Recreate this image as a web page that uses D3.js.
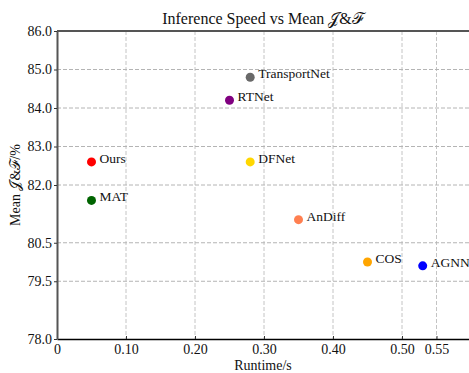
<!DOCTYPE html>
<html lang="en">
<head>
    <meta charset="UTF-8">
    <title>Inference Speed vs Mean J&F</title>
    <script type="text/javascript" src="https://cdn.jsdelivr.net/npm/d3@7"></script>
    <style>
        body { margin: 0; background: #fff; }
        text { font-family: "Liberation Serif", "DejaVu Serif", serif; fill: #111; }
    </style>
</head>
<body>
    <script type="text/javascript">
        var methods = ["Ours", "MAT", "RTNet", "TransportNet", "DFNet", "AnDiff", "COS", "AGNN"];
        var runtime = [0.05, 0.05, 0.25, 0.28, 0.28, 0.35, 0.45, 0.53];
        var meanJF = [82.6, 81.6, 84.2, 84.8, 82.6, 81.1, 80.0, 79.9];
        var colors = ["red", "darkgreen", "purple", "dimgray", "gold", "coral", "orange", "blue"];
        var xTicks = [0, 0.10, 0.20, 0.30, 0.40, 0.50, 0.55];
        var yTicks = [78.0, 79.5, 80.5, 82.0, 83.0, 84.0, 85.0, 86.0];

        var w = 469, h = 373;
        var mLeft = 57, mRight = 471, mTop = 31, mBottom = 339;

        var svg = d3.select("body").append("svg")
            .attr("width", w)
            .attr("height", h);

        var xScale = d3.scaleLinear().domain([0, 0.6]).range([mLeft, mRight]);
        var yScale = d3.scaleLinear().domain([78, 86]).range([mBottom, mTop]);

        // grid
        svg.append("g").selectAll("line")
            .data(xTicks.slice(1))
            .enter().append("line")
            .attr("x1", function(d) { return xScale(d); })
            .attr("x2", function(d) { return xScale(d); })
            .attr("y1", mTop).attr("y2", mBottom)
            .attr("stroke", "#c4c4c4")
            .attr("stroke-width", 1)
            .attr("stroke-dasharray", "4,2");

        svg.append("g").selectAll("line")
            .data(yTicks.slice(1, -1))
            .enter().append("line")
            .attr("x1", mLeft).attr("x2", mRight)
            .attr("y1", function(d) { return yScale(d); })
            .attr("y2", function(d) { return yScale(d); })
            .attr("stroke", "#b4b4b4")
            .attr("stroke-width", 1)
            .attr("stroke-dasharray", "4,2");

        // axes
        var xAxis = svg.append("g")
            .attr("transform", "translate(0," + mBottom + ")")
            .call(d3.axisBottom(xScale).tickValues(xTicks).tickSizeInner(-3).tickSizeOuter(0).tickPadding(5)
                .tickFormat(function(d) { return d === 0 ? "0" : d3.format(".2f")(d); }));
        xAxis.select(".domain").attr("stroke", "#000").attr("stroke-width", 1.5);
        xAxis.selectAll("text").attr("font-size", 14).attr("font-family", "Liberation Serif").attr("fill", "#111");
        xAxis.selectAll(".tick line").attr("stroke", "#333");

        var yAxis = svg.append("g")
            .attr("transform", "translate(" + mLeft + ",0)")
            .call(d3.axisLeft(yScale).tickValues(yTicks).tickSizeInner(3).tickSizeOuter(0).tickPadding(2)
                .tickFormat(d3.format(".1f")));
        yAxis.select(".domain").attr("stroke", "#555").attr("stroke-width", 2);
        yAxis.selectAll("text").attr("font-size", 14).attr("font-family", "Liberation Serif").attr("fill", "#111");
        yAxis.selectAll(".tick line").attr("stroke", "#333");

        // top spine
        svg.append("line")
            .attr("x1", mLeft).attr("x2", mRight)
            .attr("y1", mTop).attr("y2", mTop)
            .attr("stroke", "#555").attr("stroke-width", 2);

        // points
        svg.selectAll("circle")
            .data(methods)
            .enter()
            .append("circle")
            .attr("cx", function(d, i) { return xScale(runtime[i]); })
            .attr("cy", function(d, i) { return yScale(meanJF[i]); })
            .attr("r", 4.5)
            .attr("fill", function(d, i) { return colors[i]; });

        svg.selectAll(".lbl")
            .data(methods)
            .enter()
            .append("text")
            .attr("class", "lbl")
            .attr("x", function(d, i) { return xScale(runtime[i]) + 8; })
            .attr("y", function(d, i) { return yScale(meanJF[i]) + 1; })
            .attr("font-size", 13.5)
            .text(function(d) { return d; });

        // titles
        svg.append("text")
            .attr("x", 263).attr("y", 24)
            .attr("text-anchor", "middle")
            .attr("font-size", 16)
            .text("Inference Speed vs Mean \u{1D4A5}&\u2131");

        svg.append("text")
            .attr("x", 263).attr("y", 370)
            .attr("text-anchor", "middle")
            .attr("font-size", 14)
            .text("Runtime/s");

        svg.append("text")
            .attr("transform", "translate(20," + ((mTop + mBottom) / 2) + ") rotate(-90)")
            .attr("text-anchor", "middle")
            .attr("font-size", 14)
            .text("Mean \u{1D4A5}&\u2131/%");
    </script>
</body>
</html>
